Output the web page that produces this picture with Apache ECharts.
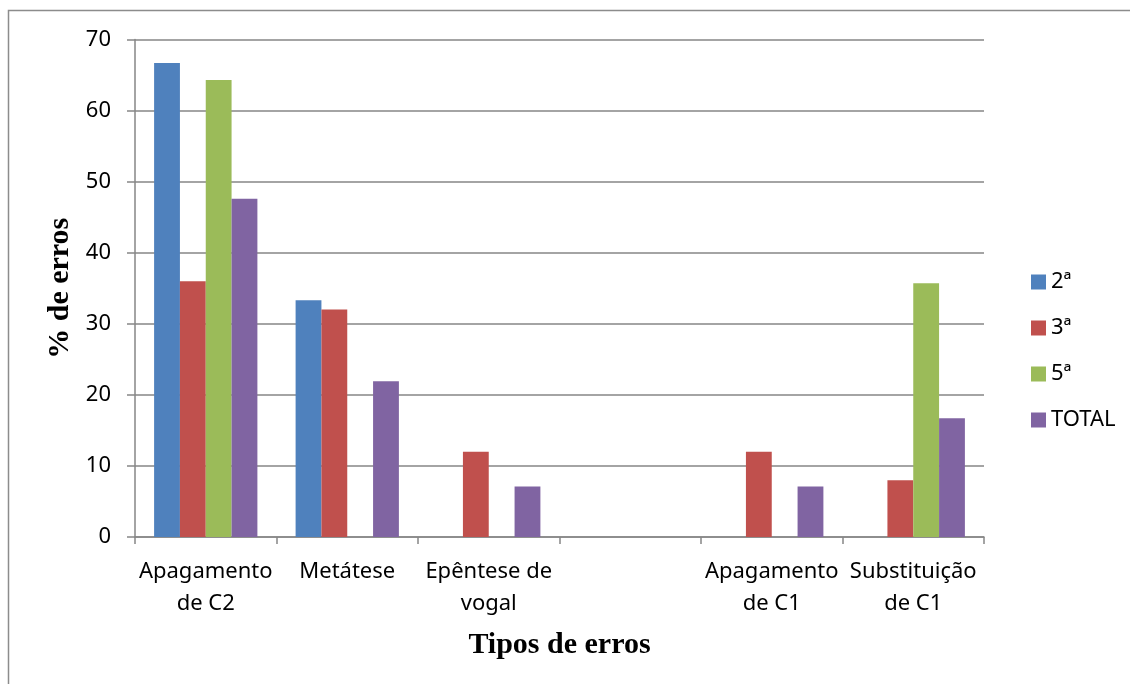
<!DOCTYPE html>
<html>
<head>
<meta charset="utf-8">
<script src="https://cdn.jsdelivr.net/npm/echarts@6/dist/echarts.min.js"></script>
<style>
html,body{margin:0;padding:0;background:#fff;}
#chart{width:1130px;height:684px;}
</style>
</head>
<body>
<div id="chart"></div>
<script>
const categories = ['Apagamento\nde C2', 'Metátese', 'Epêntese de\nvogal', '', 'Apagamento\nde C1', 'Substituição\nde C1'];
const seriesNames = ['2ª', '3ª', '5ª', 'TOTAL'];
const s2 = [66.7, 33.3, 0, 0, 0, 0];
const s3 = [36, 32, 12, 0, 12, 8];
const s5 = [64.3, 0, 0, 0, 0, 35.7];
const sTotal = [47.6, 21.9, 7.1, 0, 7.1, 16.7];
const yTicks = [0, 10, 20, 30, 40, 50, 60, 70];
const colors = ['#4F81BD', '#C0504D', '#9BBB59', '#8064A2'];

const chart = echarts.init(document.getElementById('chart'));
const allData = [s2, s3, s5, sTotal];
chart.setOption({
  animation: false,
  backgroundColor: '#fff',
  graphic: [{
    type: 'rect',
    shape: {x: 8.5, y: 10.5, width: 1300, height: 900},
    style: {fill: 'none', stroke: '#8c8c8c', lineWidth: 1.5},
    silent: true
  }],
  grid: {left: 135, right: 146, top: 39.5, bottom: 147, containLabel: false},
  legend: {
    orient: 'vertical',
    left: 1026,
    top: 266,
    itemWidth: 15,
    itemHeight: 15,
    itemGap: 24,
    icon: 'rect',
    textStyle: {fontFamily: 'Noto Sans', fontSize: 22, color: '#000', lineHeight: 22},
    data: seriesNames
  },
  xAxis: {
    type: 'category',
    data: categories,
    name: 'Tipos de erros',
    nameLocation: 'middle',
    nameGap: 93,
    nameTextStyle: {fontFamily: 'Liberation Serif', fontWeight: 'bold', fontSize: 30, color: '#000'},
    axisLine: {lineStyle: {color: '#868686', width: 1.5}},
    axisTick: {show: true, alignWithLabel: false, length: 7, lineStyle: {color: '#868686', width: 1.5}},
    axisLabel: {fontFamily: 'Noto Sans', fontSize: 22, color: '#000', lineHeight: 32, margin: 19, interval: 0},
    splitLine: {show: false}
  },
  yAxis: {
    type: 'value',
    min: 0,
    max: 70,
    interval: 10,
    name: '% de erros',
    nameLocation: 'middle',
    nameRotate: 90,
    nameGap: 56,
    nameTextStyle: {fontFamily: 'Liberation Serif', fontWeight: 'bold', fontSize: 30, color: '#000'},
    axisLine: {show: true, lineStyle: {color: '#868686', width: 1.5}},
    axisTick: {show: true, length: 8, lineStyle: {color: '#868686', width: 1.5}},
    axisLabel: {fontFamily: 'Noto Sans', fontSize: 22, color: '#000', margin: 24,
      formatter: v => yTicks.includes(v) ? String(v) : ''},
    splitLine: {lineStyle: {color: '#868686', width: 1.5}}
  },
  series: seriesNames.map((n, i) => ({
    name: n,
    type: 'bar',
    data: allData[i],
    barGap: '0%',
    barCategoryGap: '27%',
    itemStyle: {color: colors[i]}
  }))
});
</script>
</body>
</html>
